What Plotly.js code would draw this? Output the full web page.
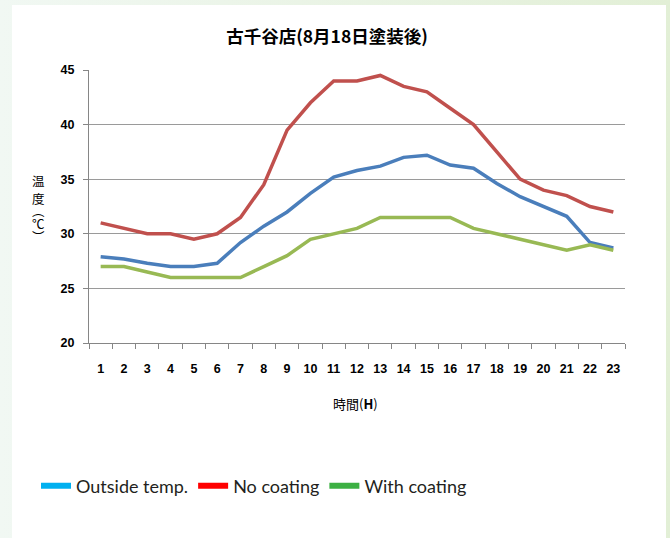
<!DOCTYPE html>
<html>
<head>
<meta charset="utf-8">
<script src="https://cdn.plot.ly/plotly-3.0.1.min.js"></script>
<style>
  html, body { margin:0; padding:0; }
  body { width:670px; height:538px; background: linear-gradient(to right, #f1f8f3, #e2efd6); position:relative; overflow:hidden; }
  #panel { position:absolute; left:12px; top:5px; width:654px; height:533px; background:#ffffff; }
  #chart { position:absolute; left:0; top:0; width:670px; height:538px; }
</style>
</head>
<body>
<div id="panel"></div>
<div id="chart"></div>
<script>
const hours = ["1","2","3","4","5","6","7","8","9","10","11","12","13","14","15","16","17","18","19","20","21","22","23"];
const outsideTemp = [27.9,27.7,27.3,27.0,27.0,27.3,29.2,30.7,32.0,33.7,35.2,35.8,36.2,37.0,37.2,36.3,36.0,34.6,33.4,32.5,31.6,29.2,28.7];
const noCoating   = [31.0,30.5,30.0,30.0,29.5,30.0,31.5,34.5,39.5,42.0,44.0,44.0,44.5,43.5,43.0,41.5,40.0,37.5,35.0,34.0,33.5,32.5,32.0];
const withCoating = [27.0,27.0,26.5,26.0,26.0,26.0,26.0,27.0,28.0,29.5,30.0,30.5,31.5,31.5,31.5,31.5,30.5,30.0,29.5,29.0,28.5,29.0,28.5];
const seriesNames = ["Outside temp.","No coating","With coating"];
const lineColors = ["#4a7ebb","#c0504d","#98b954"];
const legendColors = ["#00b0f0","#ff0000","#3cb043"];
const yTicks = [20,25,30,35,40,45];
const yTitleChars = ["温","度","︵","℃","︶"];

const seriesValues = [outsideTemp, noCoating, withCoating];
const traces = [];
seriesValues.forEach((vals, i) => {
  traces.push({
    type:"scatter", mode:"lines", x:hours, y:vals, name:seriesNames[i],
    line:{color:lineColors[i], width:3.5}, showlegend:false, hoverinfo:"x+y"
  });
});
seriesNames.forEach((nm, i) => {
  traces.push({
    type:"scatter", mode:"lines", x:[null], y:[null], name:nm,
    line:{color:legendColors[i], width:6}, showlegend:true, hoverinfo:"skip"
  });
});

// vertical y-axis title, one upright character per line
const yTitlePx = [180, 198, 211, 223, 236];
const yTitleAnns = yTitleChars.map((ch, i) => ({
  text: ch, xref:"paper", yref:"paper", x:(38-89)/536, y:(343-yTitlePx[i])/273,
  xanchor:"center", yanchor:"middle", showarrow:false,
  font:{family:"Noto Sans CJK JP", size:12.5, color:"#000"}
}));

const layout = {
  width:670, height:538,
  paper_bgcolor:"rgba(0,0,0,0)", plot_bgcolor:"rgba(0,0,0,0)",
  margin:{l:89, r:45, t:70, b:195},
  title:{text:"<b>古千谷店(8月18日塗装後)</b>", x:327/670, xanchor:"center", xref:"container",
         y:1-37/538, yanchor:"middle", yref:"container",
         font:{family:"Noto Sans CJK JP", size:17.5, color:"#000"}},
  xaxis:{type:"category", range:[-0.5, 22.5], tickson:"boundaries", ticks:"outside", ticklen:5, tickcolor:"#868686",
         showgrid:false, showline:true, linecolor:"#868686", linewidth:1,
         tickfont:{family:"Liberation Sans", size:12.5, color:"#000", weight:"bold"},
         ticklabelstandoff:14, fixedrange:true},
  yaxis:{range:[20,45], tickvals:yTicks, ticks:"outside", ticklen:5, tickcolor:"#868686",
         showgrid:true, gridcolor:"#9a9a9a", gridwidth:1, zeroline:false,
         showline:true, linecolor:"#868686", linewidth:1,
         tickfont:{family:"Liberation Sans", size:12.5, color:"#000", weight:"bold"},
         ticklabelstandoff:6, fixedrange:true},
  showlegend:true,
  legend:{orientation:"h", x:(36-89)/536, xanchor:"left", y:(343-486)/273, yanchor:"middle",
          font:{family:"Lato", size:18, color:"#231f20"}, bgcolor:"rgba(0,0,0,0)", borderwidth:0,
          itemclick:false, itemdoubleclick:false},
  annotations:[
    {text:"時間(<b>H</b>)", xref:"paper", yref:"paper", x:(355-89)/536, y:(343-403)/273,
     xanchor:"center", yanchor:"middle", showarrow:false,
     font:{family:"Noto Sans CJK JP", size:13, color:"#000"}}
  ].concat(yTitleAnns)
};
Plotly.newPlot("chart", traces, layout, {displayModeBar:false});
</script>
</body>
</html>
